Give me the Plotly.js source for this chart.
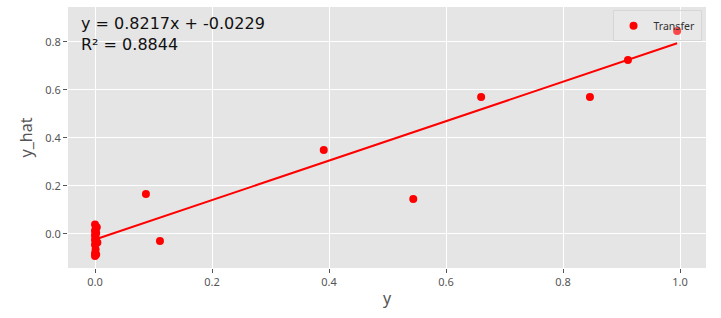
<!DOCTYPE html>
<html>
<head>
<meta charset="utf-8">
<script src="https://cdn.plot.ly/plotly-3.0.1.min.js"></script>
<style>html,body{margin:0;padding:0;background:#fff;}#chart{width:721px;height:318px;}</style>
</head>
<body>
<div id="chart"></div>
<script>
// Observed values (y) and predictions (y_hat)
const yTrue = [0.995, 0.911, 0.846, 0.660, 0.544, 0.391, 0.087, 0.111,
  0.000, 0.003, 0.001, 0.000, 0.002, 0.000, 0.001, 0.000, 0.004, 0.000, 0.001, 0.000, 0.002, 0.000];
const yHat = [0.846, 0.725, 0.571, 0.571, 0.146, 0.350, 0.167, -0.029,
  0.040, 0.028, 0.020, 0.012, 0.004, -0.005, -0.015, -0.025, -0.035, -0.045, -0.065, -0.080, -0.085, -0.092];
const slope = 0.8217;
const intercept = -0.0229;
const r2 = 0.8844;
const seriesName = 'Transfer';
const xTicks = [0.0, 0.2, 0.4, 0.6, 0.8, 1.0];
const yTicks = [0.0, 0.2, 0.4, 0.6, 0.8];

const xMin = Math.min(...yTrue), xMax = Math.max(...yTrue);
const fitX = [xMin, xMax];
const fitY = fitX.map(v => slope * v + intercept);

const font = "'Noto Sans', 'Open Sans', sans-serif";
const traces = [
  {x: yTrue, y: yHat, type: 'scatter', mode: 'markers', name: seriesName,
   marker: {color: '#ff0000', size: 8}},
  {x: fitX, y: fitY, type: 'scatter', mode: 'lines', showlegend: false,
   line: {color: '#ff0000', width: 2}}
];
const layout = {
  width: 721, height: 318,
  margin: {l: 68, r: 15, t: 7, b: 50},
  paper_bgcolor: '#ffffff', plot_bgcolor: '#e5e5e5',
  font: {family: font, color: '#555555', size: 11},
  showlegend: true,
  legend: {x: 0.993, y: 0.988, xanchor: 'right', yanchor: 'top',
    bgcolor: 'rgba(238,238,238,0.3)', bordercolor: '#d6d6d6', borderwidth: 1,
    itemwidth: 30,
    font: {size: 10.5, color: '#333333'}},
  xaxis: {range: [-0.0462, 1.0444], tickvals: xTicks, ticktext: xTicks.map(v => v.toFixed(1)),
    showgrid: true, gridcolor: '#ffffff', gridwidth: 1, zeroline: false,
    ticks: 'outside', ticklen: 4, tickcolor: '#555555', showline: false,
    title: {text: 'y', font: {size: 16, color: '#555555'}, standoff: 4}},
  yaxis: {range: [-0.1417, 0.9458], tickvals: yTicks, ticktext: yTicks.map(v => v.toFixed(1)),
    showgrid: true, gridcolor: '#ffffff', gridwidth: 1, zeroline: false,
    ticks: 'outside', ticklen: 4, tickcolor: '#555555', showline: false,
    title: {text: 'y_hat', font: {size: 16, color: '#555555'}, standoff: 8}},
  annotations: [{
    xref: 'paper', yref: 'paper', x: 0.0165, y: 0.98, xanchor: 'left', yanchor: 'top',
    align: 'left', showarrow: false,
    text: 'y = ' + slope.toFixed(4) + 'x + ' + intercept.toFixed(4) + '<br>R² = ' + r2.toFixed(4),
    font: {family: "'DejaVu Sans', sans-serif", size: 16, color: '#111111'}
  }]
};
Plotly.newPlot('chart', traces, layout, {displayModeBar: false});
</script>
</body>
</html>
